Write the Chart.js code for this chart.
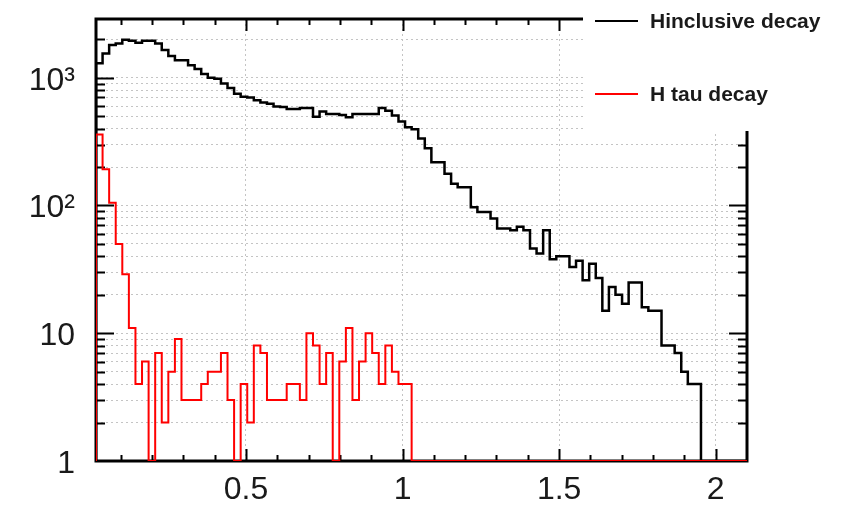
<!DOCTYPE html>
<html>
<head>
<meta charset="utf-8">
<script src="https://cdn.jsdelivr.net/npm/chart.js@4.4.1/dist/chart.umd.min.js"></script>
<style>
  html, body { margin: 0; padding: 0; background: #fff; }
  canvas { display: block; }
</style>
</head>
<body>
<canvas id="decayChart" width="856" height="507"></canvas>
<script>
// histogram binning: 100 bins on [0, 2.1], first bin (underflow side) not shown
const binWidth = 0.021;
const xMin = 0.021;
const xMax = 2.1;
const yMin = 1;
const yMax = 2880;

// bin contents, bins 2..100
const inclusiveCounts = [
  1300, 1550, 1800, 1850, 1980, 1950, 1880, 1950, 1950, 1850,
  1650, 1480, 1370, 1370, 1250, 1170, 1070, 1000, 980, 900,
  830, 750, 710, 700, 665, 640, 625, 595, 590, 570,
  570, 580, 580, 495, 545, 520, 520, 510, 490, 520,
  520, 520, 520, 580, 552, 505, 455, 410, 395, 335,
  280, 218, 218, 177, 148, 139, 139, 97, 89, 89,
  79, 66, 66, 64, 68, 64, 46, 42, 64, 38,
  40, 40, 33, 37, 26, 35, 27, 15, 23, 20,
  17, 25, 25, 16, 15, 15, 8, 8, 7, 5,
  4, 4, 0, 0, 0, 0, 0, 0, 0
];
const tauCounts = [
  360, 192, 105, 50, 29, 11, 4, 6, 0, 7,
  2, 5, 9, 3, 3, 3, 4, 5, 5, 7,
  3, 0, 4, 2, 8, 7, 3, 3, 3, 4,
  4, 3, 10, 8, 4, 7, 0, 6, 11, 3,
  6, 10, 7, 4, 8, 5, 4, 4, 0, 0,
  0, 0, 0, 0, 0, 0, 0, 0, 0, 0,
  0, 0, 0, 0, 0, 0, 0, 0, 0, 0,
  0, 0, 0, 0, 0, 0, 0, 0, 0, 0,
  0, 0, 0, 0, 0, 0, 0, 0, 0, 0,
  0, 0, 0, 0, 0, 0, 0, 0, 0
];

const seriesNames = ['Hinclusive decay', 'H tau decay'];
const seriesColors = ['#000000', '#ff0000'];

const xTickValues = [0.5, 1, 1.5, 2];
const yDecades = [1, 10, 100, 1000];
const yDecadeLabels = ['1', '10', '10\u00b2', '10\u00b3'];

// every log tick 1..9 x 10^n inside the y range (grid lines)
const yGridValues = [];
yDecades.forEach(d => {
  for (let m = 1; m < 10; m++) {
    if (m * d <= yMax) yGridValues.push(m * d);
  }
});

// outline of a ROOT-style histogram: points at the low edge of each bin
function histPoints(counts) {
  const pts = [{ x: xMin, y: yMin }];
  counts.forEach((c, i) => {
    pts.push({ x: xMin + binWidth * i, y: Math.max(c, yMin) });
  });
  const last = counts[counts.length - 1];
  pts.push({ x: xMin + binWidth * counts.length, y: Math.max(last, yMin) });
  pts.push({ x: xMin + binWidth * counts.length, y: yMin });
  return pts;
}

const font = "'Liberation Sans', Arial, Helvetica, sans-serif";

// inner tick marks on all four sides + thick frame
const framePlugin = {
  id: 'frame',
  beforeDatasetsDraw(chart) {
    const { ctx, chartArea: a, scales: { x, y } } = chart;
    ctx.save();
    ctx.strokeStyle = '#000';
    ctx.lineWidth = 2;
    ctx.beginPath();
    for (let i = 1; i <= 21; i++) {
      const v = i / 10;
      const px = Math.round(x.getPixelForValue(v)) + 0.5;
      if (px <= a.left + 2 || px >= a.right - 2) continue;
      const len = i % 5 === 0 ? 12 : 6;
      ctx.moveTo(px, a.bottom); ctx.lineTo(px, a.bottom - len);
      ctx.moveTo(px, a.top); ctx.lineTo(px, a.top + len);
    }
    yGridValues.forEach(v => {
      const py = Math.round(y.getPixelForValue(v)) + 0.5;
      if (py >= a.bottom - 2) return;
      const len = yDecades.includes(v) ? 18 : 9;
      ctx.moveTo(a.left, py); ctx.lineTo(a.left + len, py);
      ctx.moveTo(a.right, py); ctx.lineTo(a.right - len, py);
    });
    ctx.stroke();
    ctx.lineWidth = 3;
    ctx.strokeRect(a.left, a.top, a.right - a.left, a.bottom - a.top);
    ctx.restore();
  }
};

// legend sits in a white box over the top-right corner of the frame
const legendPlugin = {
  id: 'cornerLegend',
  afterDatasetsDraw(chart) {
    const { ctx } = chart;
    const boxLeft = 583, boxBottom = 131;
    const rowY = [21, 94];
    ctx.save();
    ctx.fillStyle = '#fff';
    ctx.fillRect(boxLeft, 0, chart.width - boxLeft, boxBottom);
    chart.data.datasets.forEach((ds, i) => {
      ctx.strokeStyle = ds.borderColor;
      ctx.lineWidth = 2;
      ctx.beginPath();
      ctx.moveTo(595, rowY[i]);
      ctx.lineTo(638, rowY[i]);
      ctx.stroke();
      ctx.fillStyle = '#1a1a1a';
      ctx.font = 'bold 21px ' + font;
      ctx.textBaseline = 'middle';
      ctx.textAlign = 'left';
      ctx.fillText(ds.label, 650, rowY[i] + 1);
    });
    ctx.restore();
  }
};

const gridStyle = { color: '#c4c4c4', lineWidth: 1, drawTicks: false };
const gridBorder = { display: false, dash: [2, 3] };

new Chart(document.getElementById('decayChart'), {
  type: 'line',
  data: {
    datasets: [
      {
        label: seriesNames[0],
        data: histPoints(inclusiveCounts),
        borderColor: seriesColors[0],
        borderWidth: 2.5,
        pointRadius: 0,
        stepped: 'before',
        order: 1
      },
      {
        label: seriesNames[1],
        data: histPoints(tauCounts),
        borderColor: seriesColors[1],
        borderWidth: 2,
        pointRadius: 0,
        stepped: 'before',
        order: 0
      }
    ]
  },
  options: {
    responsive: false,
    animation: false,
    devicePixelRatio: 1,
    layout: { padding: { top: 19, right: 109, left: 0, bottom: 0 } },
    plugins: { legend: { display: false }, tooltip: { enabled: false } },
    scales: {
      x: {
        type: 'linear',
        min: xMin,
        max: xMax,
        grid: gridStyle,
        border: gridBorder,
        afterBuildTicks: s => { s.ticks = xTickValues.map(v => ({ value: v })); },
        afterFit: s => {
          s.height = 46;
          s.paddingLeft = 0;
          s.paddingRight = 0;
        },
        ticks: {
          autoSkip: false,
          maxRotation: 0,
          padding: 10,
          color: '#1a1a1a',
          font: { family: font, size: 32 },
          callback: v => String(v)
        }
      },
      y: {
        type: 'logarithmic',
        min: yMin,
        max: yMax,
        grid: gridStyle,
        border: gridBorder,
        afterBuildTicks: s => { s.ticks = yGridValues.map(v => ({ value: v })); },
        afterFit: s => {
          s.width = 96;
          s.paddingTop = 0;
          s.paddingBottom = 0;
        },
        ticks: {
          autoSkip: false,
          padding: 21,
          labelOffset: 3,
          color: '#1a1a1a',
          font: { family: font, size: 32 },
          callback: v => {
            const k = yDecades.indexOf(v);
            return k >= 0 ? yDecadeLabels[k] : '';
          }
        }
      }
    }
  },
  plugins: [framePlugin, legendPlugin]
});
</script>
</body>
</html>
